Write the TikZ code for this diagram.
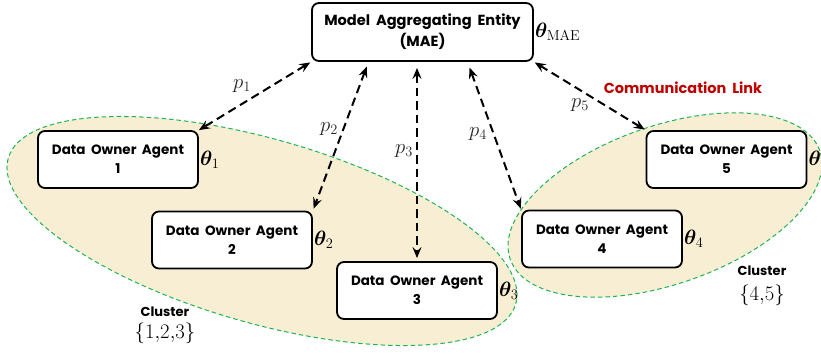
\documentclass[tikz,border=0pt]{standalone}
\usepackage{bm}
\usepackage{fontspec}
\newfontfamily\geo{Poppins}[WordSpace=1.9]
\usetikzlibrary{arrows.meta}
\definecolor{clfill}{RGB}{248,238,212}
\definecolor{clline}{RGB}{30,180,80}
\definecolor{commred}{RGB}{192,0,0}
\tikzset{
  agent/.style={draw=black, line width=1.8pt, rounded corners=7pt, fill=white,
    minimum width=160pt, minimum height=57pt, align=center, inner sep=0pt,
    font=\geo\bfseries\fontsize{13.5}{19}\selectfont},
  link/.style={line width=2pt, dash pattern=on 8.5pt off 5pt,
    {Stealth[length=11pt,width=9pt,inset=4pt]}-{Stealth[length=11pt,width=9pt,inset=4pt]}},
  cluster/.style={fill=clfill, draw=clline, line width=1pt, dash pattern=on 4.5pt off 3pt},
  mathlbl/.style={inner sep=1pt, font=\fontsize{20.74}{24}\selectfont},
  plbl/.style={inner sep=0pt, font=\fontsize{20.74}{24}\selectfont, text=black!85},
  sanslbl/.style={inner sep=0pt, font=\geo\bfseries\fontsize{13}{16}\selectfont},
}
\begin{document}
\begin{tikzpicture}[x=1pt,y=-1pt]
\useasboundingbox (0,0) rectangle (821,354);
% clusters
\draw[cluster, rotate around={-16:(262,231)}] (262,231) ellipse [x radius=264pt, y radius=92pt];
\draw[cluster, rotate around={19.3:(665,205)}] (665,205) ellipse [x radius=164pt, y radius=79pt];
% nodes
\node[agent, minimum width=221pt, minimum height=58pt, font=\geo\bfseries\fontsize{14.6}{21}\selectfont] (mae) at (422.5,32) {Model Aggregating Entity\\(MAE)};
\node[agent] (a1) at (118,159.5) {Data Owner Agent\\1};
\node[agent] (a2) at (232,240) {Data Owner Agent\\2};
\node[agent] (a3) at (417,290.5) {Data Owner Agent\\3};
\node[agent] (a4) at (602,239) {Data Owner Agent\\4};
\node[agent] (a5) at (726.5,159.5) {Data Owner Agent\\5};
% parameters
\node[mathlbl, anchor=west] (tmae) at (mae.east) {$\bm{\theta}_{\mathrm{MAE}}$};
\node[mathlbl, anchor=west] (t1) at (a1.east) {$\bm{\theta}_1$};
\node[mathlbl, anchor=west] (t2) at (a2.east) {$\bm{\theta}_2$};
\node[mathlbl, anchor=west] (t3) at (a3.east) {$\bm{\theta}_3$};
\node[mathlbl, anchor=west] (t4) at (a4.east) {$\bm{\theta}_4$};
\node[mathlbl, anchor=west] (t5) at (a5.east) {$\bm{\theta}_5$};
% links
\draw[link, shorten <=1pt] (mae.south west) -- (a1.north east);
\draw[link, shorten <=5pt, shorten >=2pt] ([xshift=-54pt]mae.south) -- (a2.north east);
\draw[link, shorten <=6pt, shorten >=3pt] (a3.north |- mae.south) -- (a3.north);
\draw[link, shorten <=6pt, shorten >=1pt] ([xshift=45pt]mae.south) -- (a4.north west);
\draw[link, shorten <=1pt, shorten >=1pt] (mae.south east) -- (a5.north west);
% link labels
\node[plbl] (p1) at (242,86) {$p_1$};
\node[plbl] (p2) at (329,129) {$p_2$};
\node[plbl] (p3) at (404,151) {$p_3$};
\node[plbl] (p4) at (478,134) {$p_4$};
\node[plbl] (p5) at (580,105) {$p_5$};
\node[sanslbl, text=commred, font=\geo\bfseries\fontsize{14.5}{17}\selectfont] (comm) at (683,88) {Communication Link};
% cluster labels
\node[sanslbl] (c1) at (165,312) {Cluster};
\node[mathlbl] (c1s) at (165,333) {$\{1{,}2{,}3\}$};
\node[sanslbl] (c2) at (762,271) {Cluster};
\node[mathlbl] (c2s) at (762,295) {$\{4{,}5\}$};
\end{tikzpicture}
\end{document}
